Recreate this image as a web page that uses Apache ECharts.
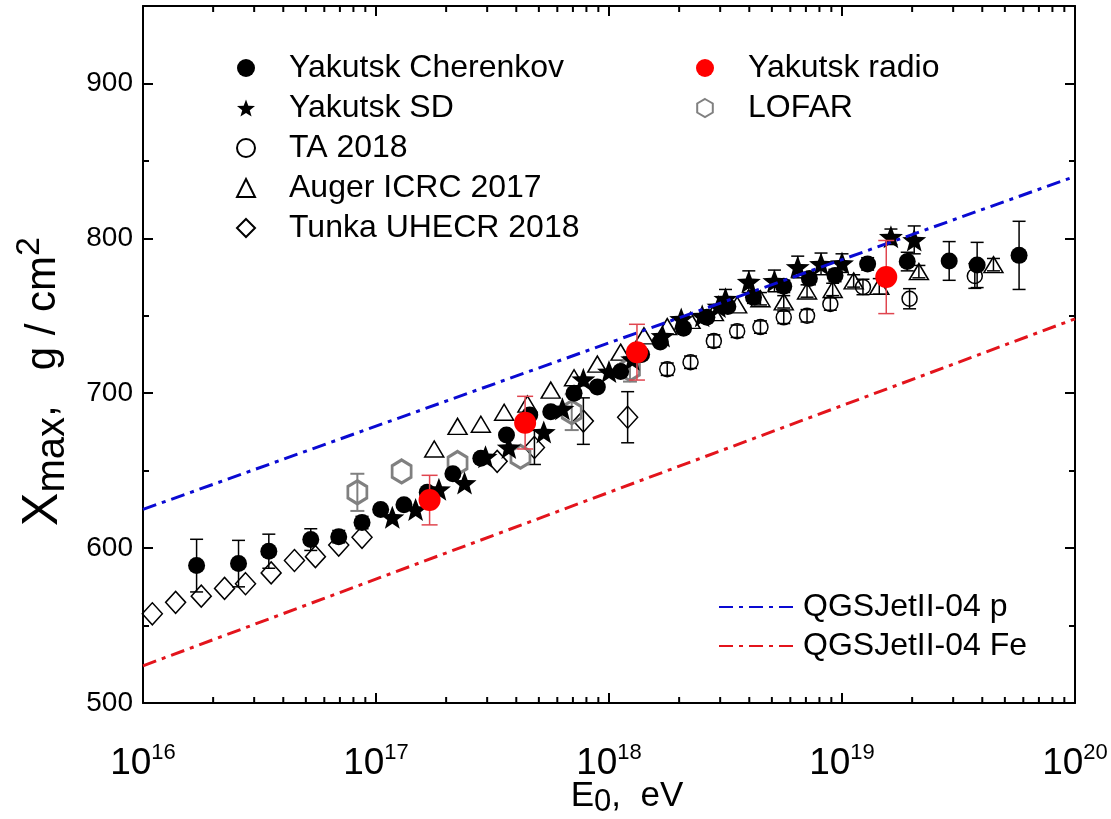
<!DOCTYPE html>
<html>
<head>
<meta charset="utf-8">
<script src="https://cdn.jsdelivr.net/npm/echarts@6/dist/echarts.min.js"></script>
<style>
html, body { margin: 0; padding: 0; background: #fff; }
#chart { width: 1111px; height: 819px; }
</style>
</head>
<body>
<div id="chart"></div>
<script>
// energies are stored as lg(E/eV), depths in g/cm2
var cherLg  = [16.23, 16.41, 16.54, 16.72, 16.84, 16.94, 17.02, 17.12, 17.22, 17.33, 17.45, 17.56, 17.66, 17.75, 17.85, 17.95, 18.05, 18.14, 18.22, 18.32, 18.42, 18.51, 18.62, 18.75, 18.86, 18.97, 19.11, 19.28, 19.46, 19.58, 19.76];
var cherX   = [588.7, 590, 598, 605.5, 607.4, 616.5, 625, 628, 636, 648, 658, 673, 686, 688, 700, 704, 714, 725, 733, 742, 749, 756, 762, 769, 774, 776, 783.5, 785, 785.4, 782.8, 789];
var cherErr = [17, 15, 11, 7, 4, 4, 0, 0, 0, 0, 0, 0, 0, 0, 0, 0, 0, 0, 0, 0, 0, 0, 4, 4, 4, 4, 4, 6, 12.5, 14.6, 22];

var sdLg  = [17.07, 17.17, 17.27, 17.38, 17.47, 17.57, 17.72, 17.80, 17.89, 18.00, 18.10, 18.23, 18.31, 18.40, 18.47, 18.50, 18.60, 18.71, 18.81, 18.91, 19.00, 19.21, 19.31];
var sdX   = [620, 625, 638, 642, 659, 665, 675, 690, 709, 714, 722, 737, 748, 750, 756, 761, 772, 772.5, 781.5, 783.5, 784, 801, 799];
var sdErr = [0, 0, 0, 0, 0, 0, 0, 0, 0, 0, 0, 0, 0, 0, 0, 6, 7, 7, 7, 7, 6, 5, 9];

var taLg  = [18.25, 18.35, 18.45, 18.55, 18.65, 18.75, 18.85, 18.95, 19.09, 19.29, 19.57];
var taX   = [715.5, 720, 733.7, 740, 742.7, 749, 750, 757.6, 768.6, 761, 775.7];
var taErr = [4, 4, 4, 4, 4, 4, 4, 4, 5, 6.5, 8];

var augerLg  = [17.25, 17.35, 17.45, 17.55, 17.65, 17.75, 17.85, 17.95, 18.05, 18.15, 18.25, 18.35, 18.45, 18.55, 18.65, 18.75, 18.85, 18.96, 19.05, 19.16, 19.33, 19.65];
var augerX   = [664, 678.6, 680, 687.7, 693, 702, 710, 718.8, 726.5, 737, 743, 747, 752, 757, 761, 759, 766, 767, 772.5, 769, 778.5, 783];
var augerErr = [0, 0, 0, 0, 0, 0, 0, 0, 0, 0, 0, 0, 0, 0, 4, 4, 4, 4, 4, 5, 4, 4];

var tunkaLg  = [16.04, 16.14, 16.25, 16.35, 16.44, 16.55, 16.65, 16.74, 16.84, 16.94, 17.52, 17.68, 17.89, 18.08];
var tunkaX   = [557.6, 565, 569, 574, 577, 584, 592, 594.5, 602, 607, 656, 665, 682, 684.5];
var tunkaErr = [0, 0, 0, 0, 0, 0, 0, 0, 0, 0, 0, 11, 15, 16.5];

var radioLg  = [17.23, 17.64, 18.12, 19.19];
var radioX   = [631, 681, 726.5, 775];
var radioErr = [16, 17, 18, 23.6];

var lofarLg  = [16.92, 17.11, 17.35, 17.62, 17.84, 18.09];
var lofarX   = [636, 649.5, 655, 659, 687.7, 715.5];
var lofarErr = [12, 0, 0, 0, 11.5, 8];

// model lines, QGSJetII-04
var modelLg = [16, 20];
var protonX = [625, 840];
var ironX   = [524, 748];

var xDecades = [16, 17, 18, 19];
var xMinorMult = [2, 3, 4, 5, 6, 7, 8, 9];

var FONT = 'Liberation Sans, Arial, sans-serif';
var STAR = 'path://M0,-10 L2.47,-3.4 L9.51,-3.09 L3.99,1.3 L5.88,8.09 L0,4.2 L-5.88,8.09 L-3.99,1.3 L-9.51,-3.09 L-2.47,-3.4 Z';
var HEX = 'path://M0,-10 L8.66,-5 L8.66,5 L0,10 L-8.66,5 L-8.66,-5 Z';

function pts(lg, vals) {
    return lg.map(function (e, i) { return [Math.pow(10, e), vals[i]]; });
}

function errBars(name, lg, vals, errs, color, width, cap, z) {
    var data = [];
    for (var i = 0; i < lg.length; i++) {
        if (errs[i] > 0) data.push([Math.pow(10, lg[i]), vals[i] - errs[i], vals[i] + errs[i]]);
    }
    return {
        type: 'custom',
        name: name + ' err',
        data: data,
        z: z,
        silent: true,
        encode: { x: 0, y: [1, 2] },
        renderItem: function (params, api) {
            var lo = api.coord([api.value(0), api.value(1)]);
            var hi = api.coord([api.value(0), api.value(2)]);
            var h = cap / 2;
            var st = { stroke: color, lineWidth: width };
            return {
                type: 'group',
                children: [
                    { type: 'line', shape: { x1: lo[0], y1: lo[1], x2: hi[0], y2: hi[1] }, style: st },
                    { type: 'line', shape: { x1: lo[0] - h, y1: lo[1], x2: lo[0] + h, y2: lo[1] }, style: st },
                    { type: 'line', shape: { x1: hi[0] - h, y1: hi[1], x2: hi[0] + h, y2: hi[1] }, style: st }
                ]
            };
        }
    };
}

var minorTicks = [];
xDecades.forEach(function (d) {
    xMinorMult.forEach(function (m) { minorTicks.push([m * Math.pow(10, d), 500]); });
});

var chart = echarts.init(document.getElementById('chart'));

var axisCommon = {
    axisLine: { show: true, lineStyle: { color: '#000', width: 2 } },
    axisTick: { show: true, inside: true, length: 10, lineStyle: { color: '#000', width: 2 } },
    splitLine: { show: false }
};

var openStyle = { color: 'rgba(255,255,255,0)', borderColor: '#000', borderWidth: 1.5, opacity: 1 };

var option = {
    animation: false,
    backgroundColor: '#fff',
    grid: { left: 143, right: 36, top: 6, bottom: 116, containLabel: false, outerBoundsMode: 'none' },
    xAxis: [
        Object.assign({
            type: 'log', logBase: 10, min: 1e16, max: 1e20, position: 'bottom',
            axisLabel: {
                margin: 39,
                formatter: function (v) {
                    return '{b|10}{s|' + Math.round(Math.log10(v)) + '}';
                },
                rich: {
                    b: { fontSize: 37, fontFamily: FONT, color: '#000', lineHeight: 44 },
                    s: { fontSize: 22, fontFamily: FONT, color: '#000', lineHeight: 22, verticalAlign: 'top' }
                }
            },
            name: '{e|E}{s|0}{t|,  eV}',
            nameLocation: 'middle',
            nameGap: 71,
            nameMoveOverlap: false,
            nameTextStyle: {
                padding: [0, 0, 0, 36],
                rich: {
                    e: { fontSize: 35, fontFamily: FONT, color: '#000', lineHeight: 44 },
                    s: { fontSize: 31, fontFamily: FONT, color: '#000', lineHeight: 30, verticalAlign: 'bottom' },
                    t: { fontSize: 35, fontFamily: FONT, color: '#000', lineHeight: 44 }
                }
            }
        }, axisCommon),
        Object.assign({
            type: 'log', logBase: 10, min: 1e16, max: 1e20, position: 'top',
            axisLabel: { show: false }
        }, axisCommon)
    ],
    yAxis: [
        Object.assign({
            type: 'value', min: 500, max: 950, interval: 100, position: 'left',
            minorTick: { show: true, splitNumber: 2, length: 6, lineStyle: { color: '#000', width: 2 } },
            axisLabel: {
                margin: 10, fontSize: 28, fontFamily: FONT, color: '#000', showMaxLabel: false,
                formatter: function (v) { return v % 100 === 0 ? String(v) : ''; }
            },
            name: '{x|X}{s|max}{t|,   g / cm}{p|2}',
            nameLocation: 'middle',
            nameGap: 70,
            nameMoveOverlap: false,
            nameTextStyle: {
                padding: [0, 54, 0, 0],
                rich: {
                    x: { fontSize: 50, fontFamily: FONT, color: '#000', lineHeight: 60 },
                    s: { fontSize: 40, fontFamily: FONT, color: '#000', lineHeight: 40, verticalAlign: 'bottom' },
                    t: { fontSize: 42, fontFamily: FONT, color: '#000', lineHeight: 60 },
                    p: { fontSize: 34, fontFamily: FONT, color: '#000', lineHeight: 32, verticalAlign: 'top' }
                }
            }
        }, axisCommon),
        Object.assign({
            type: 'value', min: 500, max: 950, interval: 100, position: 'right',
            minorTick: { show: true, splitNumber: 2, length: 6, lineStyle: { color: '#000', width: 2 } },
            axisLabel: { show: false }
        }, axisCommon)
    ],
    legend: [
        {
            orient: 'vertical', left: 236, top: 52, padding: 0, itemGap: 8,
            itemWidth: 18, itemHeight: 18,
            textStyle: { fontSize: 32, fontFamily: FONT, color: '#000', lineHeight: 32, padding: [0, 0, 0, 29] },
            data: ['Yakutsk Cherenkov', 'Yakutsk SD', 'TA 2018', 'Auger ICRC 2017', 'Tunka UHECR 2018']
        },
        {
            orient: 'vertical', left: 696, top: 52, padding: 0, itemGap: 8,
            itemWidth: 18, itemHeight: 18,
            textStyle: { fontSize: 32, fontFamily: FONT, color: '#000', lineHeight: 32, padding: [0, 0, 0, 29] },
            data: ['Yakutsk radio', 'LOFAR']
        },
        {
            orient: 'vertical', left: 718, top: 591, padding: 0, itemGap: 7,
            itemWidth: 75, itemHeight: 14,
            itemStyle: { opacity: 0 },
            textStyle: { fontSize: 32, fontFamily: FONT, color: '#000', lineHeight: 32, padding: [0, 0, 0, 4] },
            data: ['QGSJetII-04 p', 'QGSJetII-04 Fe']
        }
    ],
    series: [
        {
            type: 'custom', name: 'minor ticks', silent: true, z: 10, data: minorTicks,
            renderItem: function (params, api) {
                var b = api.coord([api.value(0), 500]);
                var t = api.coord([api.value(0), 950]);
                var st = { stroke: '#000', lineWidth: 2 };
                return {
                    type: 'group',
                    children: [
                        { type: 'line', shape: { x1: b[0], y1: b[1], x2: b[0], y2: b[1] - 6 }, style: st },
                        { type: 'line', shape: { x1: t[0], y1: t[1], x2: t[0], y2: t[1] + 6 }, style: st }
                    ]
                };
            }
        },
        errBars('Tunka UHECR 2018', tunkaLg, tunkaX, tunkaErr, '#000', 1.5, 13, 2),
        {
            type: 'scatter', name: 'Tunka UHECR 2018', z: 2,
            symbol: 'diamond', symbolSize: [20, 22],
            itemStyle: openStyle,
            data: pts(tunkaLg, tunkaX)
        },
        errBars('Auger ICRC 2017', augerLg, augerX, augerErr, '#000', 1.5, 13, 2),
        {
            type: 'scatter', name: 'Auger ICRC 2017', z: 2,
            symbol: 'triangle', symbolSize: [19, 16],
            itemStyle: openStyle,
            data: pts(augerLg, augerX)
        },
        errBars('TA 2018', taLg, taX, taErr, '#000', 1.5, 13, 2),
        {
            type: 'scatter', name: 'TA 2018', z: 2,
            symbol: 'circle', symbolSize: 15,
            itemStyle: openStyle,
            data: pts(taLg, taX)
        },
        errBars('LOFAR', lofarLg, lofarX, lofarErr, '#808080', 2, 14, 3),
        {
            type: 'scatter', name: 'LOFAR', z: 3,
            symbol: HEX, symbolSize: [19, 23],
            itemStyle: { color: 'rgba(255,255,255,0)', borderColor: '#808080', borderWidth: 3, opacity: 1 },
            data: pts(lofarLg, lofarX)
        },
        errBars('Yakutsk Cherenkov', cherLg, cherX, cherErr, '#000', 1.5, 13, 4),
        {
            type: 'scatter', name: 'Yakutsk Cherenkov', z: 4,
            symbol: 'circle', symbolSize: 17,
            itemStyle: { color: '#000', opacity: 1 },
            data: pts(cherLg, cherX)
        },
        errBars('Yakutsk SD', sdLg, sdX, sdErr, '#000', 1.5, 13, 4),
        {
            type: 'scatter', name: 'Yakutsk SD', z: 4,
            symbol: STAR, symbolSize: [24, 23],
            itemStyle: { color: '#000', opacity: 1 },
            data: pts(sdLg, sdX)
        },
        {
            type: 'line', name: 'QGSJetII-04 p', z: 5, symbol: 'none',
            lineStyle: { color: '#0a0ad2', width: 3, type: [14, 6, 4, 6] },
            itemStyle: { color: '#0a0ad2' },
            data: pts(modelLg, protonX)
        },
        {
            type: 'line', name: 'QGSJetII-04 Fe', z: 5, symbol: 'none',
            lineStyle: { color: '#e3141c', width: 3, type: [14, 6, 4, 6] },
            itemStyle: { color: '#e3141c' },
            data: pts(modelLg, ironX)
        },
        errBars('Yakutsk radio', radioLg, radioX, radioErr, '#e0454f', 1.5, 16, 6),
        {
            type: 'scatter', name: 'Yakutsk radio', z: 6,
            symbol: 'circle', symbolSize: 22,
            itemStyle: { color: '#ff0000', opacity: 1 },
            data: pts(radioLg, radioX)
        }
    ]
};

chart.setOption(option);
</script>
</body>
</html>
